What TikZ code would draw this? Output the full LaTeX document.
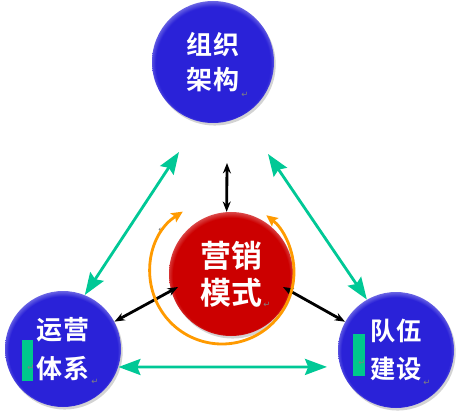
\documentclass[tikz,border=0pt]{standalone}
\usepackage{fontspec}
\newfontfamily\cjk{Noto Sans CJK SC}[UprightFont=* Bold]
\newfontfamily\symfont{DejaVu Sans}
\usepackage{tikz}
\usetikzlibrary{arrows.meta,calc,shadows}
\usepackage{xcolor}
\definecolor{ballBlue}{HTML}{2A22D8}
\definecolor{ballRed}{HTML}{CC0000}
\definecolor{linkGreen}{HTML}{00C896}
\definecolor{barGreen}{HTML}{00C88C}
\definecolor{cycleOrange}{HTML}{FF9A00}
\pgfdeclareradialshading{bevelblue}{\pgfpoint{0bp}{-1.5bp}}{color(0bp)=(ballBlue); color(23.5bp)=(ballBlue); color(26.5bp)=(ballBlue!60!white); color(50bp)=(ballBlue!60!white)}
\pgfdeclareradialshading{bevelred}{\pgfpoint{0bp}{-1.5bp}}{color(0bp)=(ballRed); color(23.5bp)=(ballRed); color(26.5bp)=(ballRed!62!white); color(50bp)=(ballRed!62!white)}

\begin{document}
\begin{tikzpicture}[
            >=Stealth,
            ball/.style={
                circle,
                inner sep=0pt,
                minimum size=2.9cm,
                align=center,
                text=white,
                font=\cjk\fontsize{18.5pt}{28pt}\selectfont,
                drop shadow={shadow xshift=1.2pt, shadow yshift=-1.8pt, opacity=0.35}
            },
            blueball/.style={ball, shading=bevelblue},
            redball/.style={ball, shading=bevelred, minimum size=3.1cm,
                            font=\cjk\fontsize{22pt}{26.5pt}\selectfont},
            greenarrow/.style={{Stealth[length=0.55cm, width=0.4cm, inset=0.08cm]}-{Stealth[length=0.55cm, width=0.4cm, inset=0.08cm]},
                               line width=2pt, draw=linkGreen},
            blackarrow/.style={{Stealth[length=0.26cm, width=0.2cm]}-{Stealth[length=0.26cm, width=0.2cm]},
                               line width=2pt, draw=black},
            cyclearc/.style={{Stealth[length=0.28cm, width=0.26cm, inset=0.05cm]}-{Stealth[length=0.28cm, width=0.26cm, inset=0.05cm]},
                             line width=2pt, draw=cycleOrange},
            bar/.style={fill=barGreen, inner sep=0pt, minimum width=0.28cm, minimum height=1.03cm},
            retmark/.style={font=\symfont\fontsize{6pt}{6pt}\selectfont, text=gray, inner sep=0pt}
        ]
        \useasboundingbox (0,0) rectangle (11.525,10.45);

        %---------------- Balls ----------------%
        \node[blueball, minimum size=3.05cm, font=\cjk\fontsize{18.5pt}{25pt}\selectfont] (org) at (5.325,8.9) {组织\\架构};
        \node[redball] (mkt) at (5.775,3.6) {营销\\模式};
        \node[blueball] (ops) at (1.575,1.725) {运营\\体系};
        \node[blueball, font=\cjk\fontsize{18pt}{27pt}\selectfont] (team) at (9.9,1.7) {队伍\\建设};

        %---------------- Side bars ----------------%
        \node[bar] (opsbar) at (0.6875,1.4375) {};
        \node[bar, minimum width=0.3cm, minimum height=1.05cm] (teambar) at (8.975,1.575) {};

        %---------------- Paragraph marks ----------------%
        \node[retmark] (rorg) at (6.125,8.075) {↵};
        \node[retmark] (rmkt) at (6.675,2.825) {↵};
        \node[retmark] (rops) at (2.375,0.9) {↵};
        \node[retmark] (ropsbar) at (0.775,1.25) {↵};
        \node[retmark] (rteam) at (10.675,0.875) {↵};
        \node[retmark] (rteambar) at (9.05,1.375) {↵};
        \node[retmark] (rfree) at (4.05,4.7) {↵};

        %---------------- Free arrow ends ----------------%
        \coordinate (orgL) at (4.475,6.65);
        \coordinate (orgR) at (6.7,6.6);
        \coordinate (orgB) at (5.675,6.375);
        \coordinate (teamW) at (8.175,1.277);
        \coordinate (mktW) at (4.45,3.275);
        \coordinate (mktE) at (7.075,3.275);

        %================ Outer triangle =================%
        \draw[greenarrow] (orgL) -- (ops.68);
        \draw[greenarrow] (orgR) -- (team.120);
        \draw[greenarrow] (ops.-18) -- (teamW);

        %================ Spokes to the centre =================%
        \draw[blackarrow] (orgB) -- (mkt.94);
        \draw[blackarrow] (ops.28) -- (mktW);
        \draw[blackarrow] (mktE) -- (team.151);

        %================ Cycle round the centre =================%
        \draw[cyclearc] ($(mkt.center)+(-0.225,0.05)+(123:1.8)$)
            arc[start angle=123, end angle=412, radius=1.8];

\end{tikzpicture}
\end{document}
